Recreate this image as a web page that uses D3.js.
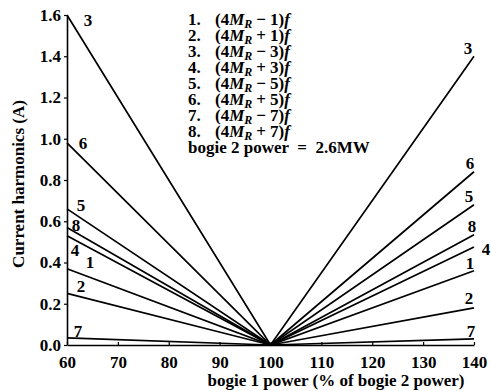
<!DOCTYPE html>
<html>
<head>
<meta charset="utf-8">
<script src="https://cdn.jsdelivr.net/npm/d3@7"></script>
<style>
  html, body { margin: 0; padding: 0; background: #fff; }
  svg { display: block; }
  text { font-family: "Liberation Serif", "Times New Roman", Tinos, "DejaVu Serif", serif; font-weight: bold; fill: #000; white-space: pre; }
</style>
</head>
<body>
<svg id="chart" width="491" height="391"></svg>
<script>
// ---- data ----
const xPoints = [60, 100, 140];               // bogie 1 power (% of bogie 2 power)
const harmonicIds = [1, 2, 3, 4, 5, 6, 7, 8];
const harmonicSigns = ["−", "+", "−", "+", "−", "+", "−", "+"];
const harmonicOrders = [1, 1, 3, 3, 5, 5, 7, 7];
const valuesAt60  = [0.37, 0.25, 1.60, 0.53, 0.66, 0.98, 0.035, 0.57];
const valuesAt100 = [0, 0, 0, 0, 0, 0, 0, 0];
const valuesAt140 = [0.36, 0.18, 1.40, 0.475, 0.68, 0.84, 0.03, 0.535];
const xTickValues = [60, 70, 80, 90, 100, 110, 120, 130, 140];
const yTickValues = [0.0, 0.2, 0.4, 0.6, 0.8, 1.0, 1.2, 1.4, 1.6];
const yTickLabels = ["0.0", "0.2", "0.4", "0.6", "0.8", "1.0", "1.2", "1.4", "1.6"];
const xTitle = "bogie 1 power (% of bogie 2 power)";
const yTitle = "Current harmonics (A)";
const noteText = "bogie 2 power  =  2.6MW";

// ---- label placement (pixel offsets from line ends) ----
const leftLabelOffsets  = [[23,-6],[14,-7],[21,5],[8,15],[14,-3],[16,1],[11,-6],[9,-2]];
const rightLabelOffsets = [[-4,-7],[-5,-9],[-6,-8],[12,2],[-5,-8],[-4,-8],[-3,-7],[-2,-8]];

const FONT = "'Liberation Serif', 'Times New Roman', Tinos, 'DejaVu Serif', serif";
const svg = d3.select("#chart");
const x = d3.scaleLinear().domain([60, 140]).range([67, 474]);
const y = d3.scaleLinear().domain([0, 1.6]).range([345, 15]);

// axes
const xAxis = d3.axisBottom(x).tickValues(xTickValues).tickSizeInner(-3).tickSizeOuter(0).tickPadding(11).tickFormat(d3.format("d"));
const gx = svg.append("g").attr("transform", `translate(0,${y(0)})`).call(xAxis);
const yAxis = d3.axisLeft(y).tickValues(yTickValues).tickSizeInner(3).tickSizeOuter(0).tickPadding(3)
  .tickFormat((d, i) => yTickLabels[i]);
const gy = svg.append("g").attr("transform", `translate(${x(60)},0)`).call(yAxis);
[gx, gy].forEach(g => {
  g.attr("font-family", null);
  g.selectAll("path.domain").attr("stroke", "#000").attr("stroke-width", 1.6);
  g.selectAll(".tick line").attr("stroke", "#000").attr("stroke-width", 1.2);
  g.selectAll(".tick text").style("font-family", FONT).style("font-weight", "bold")
    .style("font-size", "17px").attr("fill", "#000");
});

// lines
const series = harmonicIds.map((id, i) => ({
  id, i,
  pts: [[xPoints[0], valuesAt60[i]], [xPoints[1], valuesAt100[i]], [xPoints[2], valuesAt140[i]]]
}));
const line = d3.line().x(d => x(d[0])).y(d => y(d[1]));
svg.append("g").selectAll("path").data(series).join("path")
  .attr("d", d => line(d.pts))
  .attr("fill", "none").attr("stroke", "#000").attr("stroke-width", 1.7);

// end labels
const lbl = svg.append("g").style("font-size", "17px");
series.forEach(s => {
  const lo = leftLabelOffsets[s.i], ro = rightLabelOffsets[s.i];
  lbl.append("text").attr("x", x(xPoints[0]) + lo[0]).attr("y", y(valuesAt60[s.i]) + lo[1])
    .attr("text-anchor", "middle").attr("dominant-baseline", "central").text(s.id);
  lbl.append("text").attr("x", x(xPoints[2]) + ro[0]).attr("y", y(valuesAt140[s.i]) + ro[1])
    .attr("text-anchor", "middle").attr("dominant-baseline", "central").text(s.id);
});

// legend
const legendNumX = 188, legendFormX = 215, legendY0 = 25, legendDy = 16;
const leg = svg.append("g").style("font-size", "17px");
harmonicIds.forEach((id, i) => {
  const yy = legendY0 + i * legendDy;
  const t = leg.append("text").attr("y", yy);
  t.append("tspan").attr("x", legendNumX).text(id + ".");
  t.append("tspan").attr("x", legendFormX).text("(4");
  t.append("tspan").style("font-style", "italic").text("M");
  t.append("tspan").style("font-style", "italic").style("font-size", "12px").attr("dy", 3).text("R");
  t.append("tspan").attr("dy", -3).attr("dx", 4).text(harmonicSigns[i]);
  t.append("tspan").attr("dx", 4).text(`${harmonicOrders[i]})`);
  t.append("tspan").style("font-style", "italic").text("f");
});
leg.append("text").attr("x", legendNumX).attr("y", legendY0 + 8 * legendDy).text(noteText);

// titles
svg.append("text").attr("x", 336).attr("y", 386).attr("text-anchor", "middle")
  .style("font-size", "17px").text(xTitle);
svg.append("text").attr("transform", "translate(24,184) rotate(-90)").attr("text-anchor", "middle")
  .style("font-size", "17px").text(yTitle);
</script>
</body>
</html>
